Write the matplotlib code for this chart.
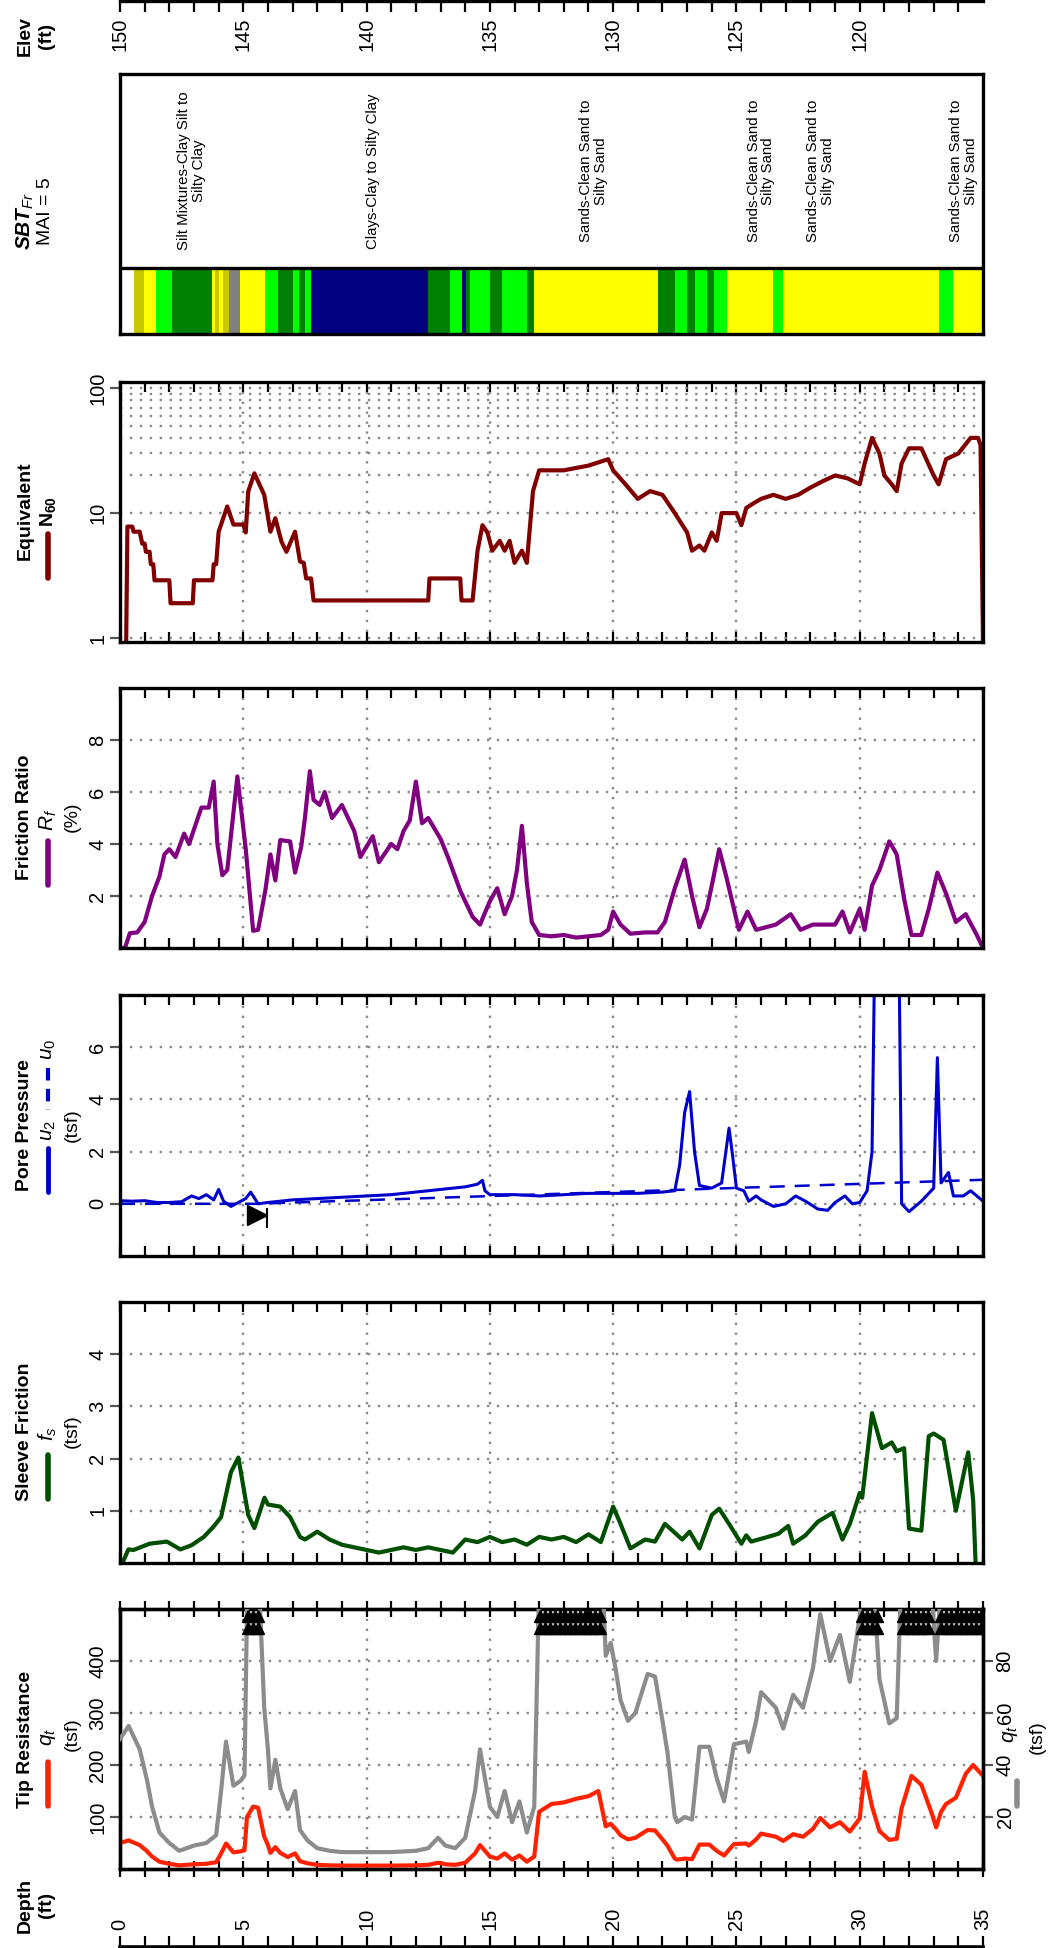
import numpy as np
import matplotlib
matplotlib.use("Agg")
import matplotlib.pyplot as plt
from matplotlib.lines import Line2D
from matplotlib.ticker import FixedLocator, NullFormatter

plt.rcParams['font.family'] = ['Liberation Sans', 'DejaVu Sans']
plt.rcParams['mathtext.fontset'] = 'custom'
plt.rcParams['mathtext.rm'] = 'Liberation Sans'
plt.rcParams['mathtext.it'] = 'Liberation Sans:italic'
plt.rcParams['mathtext.bf'] = 'Liberation Sans:bold'
plt.rcParams['mathtext.bfit'] = 'Liberation Sans:italic:bold'

# ---- data (depth in ft) ----
qt_depth = [0.0, 0.35, 0.8, 1.1, 1.3, 1.6, 2.0, 2.4, 3.0, 3.5, 3.9, 4.1, 4.3, 4.6, 4.9, 5.05,
            5.15, 5.4, 5.6, 5.85, 6.0, 6.1, 6.3, 6.5, 6.8, 7.1, 7.3, 7.6, 8.0, 8.5, 9.0, 10.0,
            11.0, 12.0, 12.5, 12.9, 13.2, 13.6, 14.0, 14.4, 14.6, 14.8, 15.0, 15.3, 15.6, 15.9,
            16.2, 16.5, 16.8, 17.0, 17.5, 18.0, 18.5, 19.0, 19.4, 19.7, 19.9, 20.1, 20.3, 20.6,
            20.9, 21.4, 21.7, 22.0, 22.2, 22.5, 22.6, 22.9, 23.2, 23.5, 23.9, 24.2, 24.5, 24.9,
            25.4, 25.5, 25.8, 26.0, 26.3, 26.6, 26.9, 27.3, 27.7, 28.1, 28.4, 28.8, 29.2, 29.6,
            30.0, 30.2, 30.5, 30.8, 31.2, 31.5, 31.7, 32.1, 32.5, 32.9, 33.1, 33.3, 33.5, 33.9,
            34.3, 34.6, 35.0]
qt_tsf = [50, 55, 46, 34, 24, 14, 10, 7, 9, 10, 13, 30, 49, 32, 34, 36,
          100, 120, 118, 62, 46, 31, 42, 31, 23, 30, 15, 11, 8, 7, 6.5, 6.5,
          6.5, 7, 8, 12, 9, 8, 12, 30, 46, 35, 24, 20, 30, 18,
          26, 14, 24, 110, 125, 128, 135, 140, 150, 82, 87, 77, 65, 57,
          60, 75, 74, 57, 45, 20, 18, 20, 19, 47, 47, 35, 26, 48,
          49, 45, 57, 68, 65, 62, 54, 67, 62, 77, 98, 80, 90, 72,
          97, 187, 120, 73, 56, 58, 117, 179, 162, 110, 80, 110, 125, 137,
          183, 200, 179]
qt_clip_start = [5.2, 17.05, 30.1, 31.75, 33.3]
qt_clip_end = [5.7, 19.55, 30.75, 32.9, 34.9]

fs_depth = [0.0, 0.1, 0.34, 0.55, 1.2, 1.9, 2.45, 2.9, 3.4, 3.8, 4.1, 4.5, 4.8, 5.2, 5.45,
            5.86, 6.0, 6.5, 6.9, 7.3, 7.5, 8.0, 8.5, 9.0, 9.5, 10.0, 10.5, 11.0, 11.5, 12.0,
            12.5, 13.0, 13.5, 14.0, 14.5, 15.0, 15.5, 16.0, 16.5, 17.0, 17.5, 18.0, 18.5, 19.0,
            19.5, 20.0, 20.3, 20.7, 21.3, 21.7, 22.1, 22.5, 22.8, 23.1, 23.5, 24.0, 24.3, 24.7,
            25.2, 25.4, 25.6, 26.2, 26.7, 27.1, 27.3, 27.8, 28.3, 28.9, 29.3, 29.6, 30.0, 30.1,
            30.5, 30.9, 31.3, 31.5, 31.8, 32.0, 32.5, 32.8, 33.0, 33.4, 33.9, 34.4, 34.6, 34.7]
fs_tsf = [0.0, 0.0, 0.26, 0.25, 0.37, 0.41, 0.26, 0.34, 0.5, 0.7, 0.88, 1.74, 2.02, 0.92, 0.67,
          1.25, 1.12, 1.08, 0.88, 0.5, 0.45, 0.6, 0.45, 0.35, 0.3, 0.25, 0.2, 0.25, 0.3, 0.25,
          0.3, 0.25, 0.2, 0.45, 0.4, 0.5, 0.4, 0.45, 0.35, 0.5, 0.45, 0.5, 0.4, 0.55,
          0.4, 1.08, 0.75, 0.28, 0.45, 0.41, 0.75, 0.58, 0.45, 0.6, 0.28, 0.92, 1.04, 0.75,
          0.37, 0.53, 0.41, 0.49, 0.56, 0.71, 0.37, 0.53, 0.79, 0.96, 0.45, 0.75, 1.34, 1.25,
          2.87, 2.2, 2.31, 2.14, 2.2, 0.66, 0.62, 2.43, 2.48, 2.36, 1.0, 2.12, 1.21, 0.0]

u2_depth = [0.0, 0.5, 1.0, 1.5, 2.0, 2.5, 2.9, 3.2, 3.5, 3.8, 4.0, 4.2, 4.5, 4.8, 5.1, 5.3,
            5.6, 6.0, 6.5, 7.0, 8.0, 9.0, 10.0, 11.0, 12.0, 13.0, 14.0, 14.5, 14.7, 14.8, 15.0,
            16.0, 17.0, 18.0, 19.0, 20.0, 21.0, 22.0, 22.5, 22.7, 22.9, 23.1, 23.3, 23.5, 24.0,
            24.4, 24.6, 24.7, 24.85, 25.0, 25.3, 25.5, 25.8, 26.0, 26.5, 27.0, 27.4, 27.8, 28.3,
            28.7, 29.0, 29.4, 29.7, 30.0, 30.3, 30.5, 30.6, 31.6, 31.7, 32.0, 32.5, 33.0, 33.15,
            33.3, 33.6, 33.8, 34.2, 34.5, 35.0]
u2_tsf = [0.12, 0.1, 0.12, 0.05, 0.05, 0.08, 0.3, 0.2, 0.35, 0.15, 0.55, 0.1, -0.1, 0.05, 0.2, 0.45,
          0.0, 0.05, 0.1, 0.15, 0.2, 0.25, 0.3, 0.35, 0.45, 0.55, 0.65, 0.75, 0.9, 0.5, 0.35,
          0.35, 0.3, 0.35, 0.4, 0.4, 0.4, 0.45, 0.5, 1.5, 3.5, 4.3, 2.0, 0.7, 0.6,
          0.8, 2.2, 2.9, 1.8, 0.6, 0.5, 0.1, 0.3, 0.15, -0.1, 0.0, 0.3, 0.1, -0.2,
          -0.25, 0.05, 0.3, 0.0, 0.05, 0.5, 2.0, 9.0, 9.0, 0.0, -0.3, 0.1, 0.6, 5.6,
          0.8, 1.2, 0.3, 0.3, 0.5, 0.1]
u0_depth = [0.0, 5.5, 35.0]
u0_tsf = [0.0, 0.0, 0.92]
water_depth = 5.55

rf_depth = [0.0, 0.2, 0.4, 0.7, 1.0, 1.3, 1.6, 1.8, 2.0, 2.25, 2.6, 2.8, 3.3, 3.6, 3.8, 3.95,
            4.15, 4.35, 4.76, 5.1, 5.4, 5.6, 5.9, 6.1, 6.3, 6.5, 6.9, 7.1, 7.35, 7.5, 7.7, 7.85,
            8.1, 8.3, 8.6, 9.0, 9.5, 9.75, 10.25, 10.5, 11.0, 11.25, 11.5, 11.75, 12.0, 12.25,
            12.5, 13.0, 13.3, 13.8, 14.3, 14.6, 15.0, 15.3, 15.6, 15.9, 16.1, 16.3, 16.5, 16.7,
            17.0, 17.5, 18.0, 18.5, 19.0, 19.5, 19.8, 20.0, 20.3, 20.7, 21.3, 21.8, 22.1, 22.5,
            22.9, 23.2, 23.5, 23.8, 24.0, 24.3, 24.6, 25.1, 25.45, 25.8, 26.6, 27.2, 27.6, 28.1,
            29.0, 29.3, 29.6, 30.0, 30.2, 30.5, 30.8, 31.2, 31.5, 31.8, 32.1, 32.5, 32.8, 33.15,
            33.5, 33.9, 34.3, 34.75, 35.0]
rf_pct = [0.0, 0.0, 0.57, 0.6, 1.0, 2.0, 2.75, 3.6, 3.8, 3.5, 4.4, 4.0, 5.4, 5.4, 6.4, 4.0,
          2.8, 3.0, 6.6, 3.8, 0.66, 0.7, 2.25, 3.6, 2.6, 4.15, 4.1, 2.9, 3.9, 5.0, 6.8, 5.7,
          5.5, 6.0, 5.0, 5.5, 4.5, 3.5, 4.3, 3.3, 4.0, 3.8, 4.5, 4.9, 6.4, 4.8,
          5.0, 4.2, 3.5, 2.2, 1.2, 0.9, 1.8, 2.3, 1.3, 2.0, 3.0, 4.7, 2.5, 1.0,
          0.5, 0.45, 0.5, 0.4, 0.45, 0.5, 0.7, 1.4, 0.9, 0.55, 0.6, 0.6, 1.0, 2.3,
          3.4, 2.0, 0.8, 1.5, 2.4, 3.8, 2.7, 0.7, 1.4, 0.7, 0.9, 1.3, 0.7, 0.9,
          0.9, 1.4, 0.6, 1.5, 0.7, 2.4, 3.0, 4.1, 3.6, 1.9, 0.5, 0.5, 1.5, 2.9,
          2.1, 1.0, 1.3, 0.5, 0.0]

n60_depth = [0.0, 0.25, 0.3, 0.5, 0.55, 0.8, 0.9, 1.0, 1.05, 1.2, 1.25, 1.35, 1.4, 2.0, 2.05,
             2.95, 3.0, 3.75, 3.8, 3.9, 4.0, 4.35, 4.6, 5.0, 5.1, 5.2, 5.45, 5.85, 6.1, 6.3,
             6.55, 6.75, 7.1, 7.3, 7.45, 7.55, 7.75, 7.85, 12.5, 12.55, 13.8, 13.85, 14.3, 14.5,
             14.7, 14.9, 15.1, 15.4, 15.6, 15.8, 16.0, 16.3, 16.5, 16.75, 17.0, 18.0, 19.0, 19.8,
             20.0, 20.5, 21.0, 21.5, 22.0, 22.5, 23.0, 23.2, 23.5, 23.7, 24.0, 24.2, 24.4, 25.0,
             25.2, 25.4, 25.7, 26.0, 26.5, 27.0, 27.5, 28.0, 28.5, 29.0, 29.5, 30.0, 30.2, 30.5,
             30.8, 31.0, 31.3, 31.5, 31.7, 32.0, 32.5, 33.0, 33.2, 33.5, 34.0, 34.5, 34.8, 34.9,
             35.0]
n60_blows = [0.9, 0.9, 7.8, 7.8, 7.1, 7.1, 5.7, 5.7, 4.9, 4.9, 3.9, 3.9, 2.9, 2.9, 1.9,
             1.9, 2.9, 2.9, 3.9, 3.9, 7.1, 11.3, 8.1, 8.1, 7.0, 14.9, 20.8, 14.0, 7.1, 9.1,
             5.9, 4.9, 7.1, 4.1, 4.0, 3.0, 3.0, 2.0, 2.0, 3.0, 3.0, 2.0, 2.0, 5.0,
             8.0, 7.0, 5.0, 6.0, 5.0, 6.0, 4.0, 5.0, 4.0, 15.0, 22.0, 22.0, 24.0, 27.0,
             22.0, 17.0, 13.0, 15.0, 14.0, 10.0, 7.0, 5.0, 5.5, 5.0, 7.0, 6.0, 10.0, 10.0,
             8.0, 11.0, 12.0, 13.0, 14.0, 13.0, 14.0, 16.0, 18.0, 20.0, 19.0, 17.0, 25.0, 40.0,
             30.0, 20.0, 17.0, 15.0, 25.0, 33.0, 33.0, 20.0, 17.0, 27.0, 30.0, 40.0, 40.0, 35.0,
             0.9]

sbt_top = [0.0, 0.57, 0.97, 1.46, 2.1, 3.74, 3.85, 4.0, 4.17, 4.43, 4.87, 5.07, 5.88, 6.42,
           7.03, 7.25, 7.5, 7.73, 12.5, 13.4, 13.85, 14.05, 14.2, 15.0, 15.5, 16.5, 16.8, 21.8,
           22.5, 23.0, 23.3, 23.8, 24.1, 24.6, 26.5, 26.9, 33.2, 33.8]
sbt_bot = sbt_top[1:] + [35.0]
sbt_color = ['white', '#C8C800', 'yellow', '#00FF00', '#008000', 'yellow', '#C8C800', 'yellow',
             '#C8C800', 'gray', 'yellow', 'yellow', '#00FF00', '#008000',
             '#00FF00', '#008000', '#00FF00', '#000080', '#008000', '#00FF00', '#000080', '#008000',
             '#00FF00', '#008000', '#00FF00', '#008000', 'yellow', '#008000',
             '#00FF00', '#008000', '#00FF00', '#008000', '#00FF00', 'yellow', '#00FF00', 'yellow',
             '#00FF00', 'yellow']
sbt_label_depth = [2.9, 10.25, 19.2, 26.0, 28.4, 34.2]
sbt_labels = ['Silt Mixtures-Clay Silt to\nSilty Clay', 'Clays-Clay to Silty Clay',
              'Sands-Clean Sand to\nSilty Sand', 'Sands-Clean Sand to\nSilty Sand',
              'Sands-Clean Sand to\nSilty Sand', 'Sands-Clean Sand to\nSilty Sand']

# ---- layout (pixels of the 1048 x 1948 picture) ----
W, H = 1048, 1948
X0, X1 = 120, 983
fig = plt.figure(figsize=(W / 100, H / 100), dpi=100)

def fx(px):
    return px / W

def fy(py):
    return 1 - py / H

def panel(top, bot):
    return fig.add_axes([fx(X0), fy(bot), fx(X1 - X0), (bot - top) / H])

grid_kw = dict(color='#8a8a8a', linestyle=(0, (1, 3.2)), linewidth=1.7)

def rotate_labels(ax):
    for lab in ax.get_yticklabels():
        lab.set_rotation(90)
        lab.set_va('center')

def style(ax, yticks, ylim, bottom_out=False):
    ax.set_xlim(0, 35)
    ax.set_ylim(ylim)
    for s in ax.spines.values():
        s.set_linewidth(2.4)
    ax.set_xticks(np.arange(0, 36, 5))
    ax.set_xticks(np.arange(0, 36, 1), minor=True)
    ax.tick_params(axis='x', which='both', direction='in', top=True, bottom=True,
                   labelbottom=False, length=7, width=1.6)
    if bottom_out:
        ax.tick_params(axis='x', which='both', bottom=True, direction='inout', length=12)
    ax.xaxis.grid(True, which='major', **grid_kw)
    if yticks is not None:
        ax.set_yticks(yticks)
        ax.set_yticklabels([str(t) for t in yticks])
        ax.yaxis.grid(True, which='major', **grid_kw)
    ax.tick_params(axis='y', which='major', direction='out', length=7, width=1.6,
                   color='#555555', labelsize=14.5, pad=2)
    rotate_labels(ax)
    ax.set_axisbelow(True)

def legend_row(x, y0, y1, color, ls='-', lw=4):
    fig.add_artist(Line2D([fx(x), fx(x)], [fy(y0), fy(y1)], color=color, lw=lw,
                          linestyle=ls, solid_capstyle='round'))

def vtext(x, y, s, size=14, weight='normal', color='black', **kw):
    fig.text(fx(x), fy(y), s, rotation=90, ha='center', va='center', fontsize=size,
             fontweight=weight, color=color, **kw)

# ---- Tip resistance ----
ax_qt = panel(1609, 1869)
style(ax_qt, [100, 200, 300, 400], (0, 500), bottom_out=True)
ax_g = ax_qt.twinx()
ax_g.set_ylim(0, 100)
ax_g.set_yticks([20, 40, 60, 80])
ax_g.tick_params(axis='y', direction='out', length=7, width=1.6, color='#555555',
                 labelsize=14.5, pad=2)
for lab in ax_g.get_yticklabels():
    lab.set_rotation(90)
    lab.set_va('center')
for s in ax_g.spines.values():
    s.set_linewidth(2.4)
ax_g.plot(qt_depth, qt_tsf, color='#8c8c8c', lw=3.0, zorder=3)
ax_qt.plot(qt_depth, qt_tsf, color='#ff2200', lw=3.0, zorder=4)
for a, b in zip(qt_clip_start, qt_clip_end):
    d = np.arange(a, b + 0.01, 0.2)
    ax_g.plot(d, np.full(d.size, 97.2), '^', color='black', ms=8.5, zorder=5)
    ax_g.plot(d, np.full(d.size, 92.8), '^', color='black', ms=8.5, zorder=5)

vtext(25, 1739, 'Tip Resistance', size=14, weight='bold')
legend_row(48, 1762, 1806, '#ff2200')
vtext(48, 1737, r'$q_t$', size=15)
vtext(72, 1734, '(tsf)', size=14)
legend_row(1017, 1781, 1806, '#8c8c8c')
vtext(1010, 1734, r'$q_t$', size=15)
vtext(1037, 1737, '(tsf)', size=14)

# ---- Sleeve friction ----
ax_fs = panel(1302, 1563)
style(ax_fs, [1, 2, 3, 4], (0, 5))
ax_fs.plot(fs_depth, fs_tsf, color='#004f00', lw=3.0)
vtext(25, 1432, 'Sleeve Friction', size=14, weight='bold')
legend_row(48, 1455, 1499, '#004f00')
vtext(48, 1434, r'$f_s$', size=15)
vtext(72, 1431, '(tsf)', size=14)

# ---- Pore pressure ----
ax_u = panel(995, 1256)
style(ax_u, [0, 2, 4, 6], (-2, 8))
ax_u.plot(u0_depth, u0_tsf, color='#0000cc', lw=1.8, linestyle=(0, (6, 4)))
ax_u.plot(u2_depth, u2_tsf, color='#0000cc', lw=2.2)
ax_u.plot([water_depth], [-0.42], marker='>', color='black', ms=15)
ax_u.plot([water_depth + 0.42, water_depth + 0.42], [-0.2, -0.9], color='black', lw=1.5)
vtext(25, 1125, 'Pore Pressure', size=14, weight='bold')
legend_row(48, 1148, 1192, '#0000cc', lw=3.5)
vtext(48, 1131, r'$u_2$', size=15)
legend_row(48, 1068, 1110, '#0000cc', ls=(0, (3, 2)), lw=3)
vtext(48, 1049, r'$u_0$', size=15)
vtext(72, 1125, '(tsf)', size=14)

# ---- Friction ratio ----
ax_rf = panel(688, 948)
style(ax_rf, [2, 4, 6, 8], (0, 10))
ax_rf.plot(rf_depth, rf_pct, color='#800080', lw=3.0)
vtext(25, 817, 'Friction Ratio', size=14, weight='bold')
legend_row(48, 841, 885, '#800080')
vtext(48, 820, r'$R_f$', size=15)
vtext(72, 817, '(%)', size=14)

# ---- Equivalent N60 ----
ax_n = panel(382, 642)
ax_n.set_yscale('log')
style(ax_n, None, (0.93, 112))
ax_n.set_yticks([1, 10, 100])
ax_n.set_yticklabels(['1', '10', '100'])
ax_n.yaxis.set_minor_locator(FixedLocator([20, 30, 40, 50, 60, 70, 80, 90]))
ax_n.yaxis.set_minor_formatter(NullFormatter())
ax_n.tick_params(axis='y', which='minor', length=0)
ax_n.tick_params(axis='y', which='major', direction='out', length=7, width=1.6,
                 color='#555555', labelsize=14.5, pad=2)
rotate_labels(ax_n)
ax_n.yaxis.grid(True, which='both', **grid_kw)
ax_n.plot(n60_depth, n60_blows, color='#800000', lw=3.0)
vtext(25, 511, 'Equivalent', size=14, weight='bold')
legend_row(48, 534, 578, '#800000')
vtext(48, 512, r'$\mathbf{N_{60}}$', size=14)

# ---- SBT ----
ax_s = panel(74, 334)
ax_s.set_xlim(0, 35)
ax_s.set_ylim(0, 1)
ax_s.set_xticks([])
ax_s.set_yticks([])
for s in ax_s.spines.values():
    s.set_linewidth(2.4)
bar_top = (334 - 268) / 260
for a, b, c in zip(sbt_top, sbt_bot, sbt_color):
    ax_s.axvspan(a, b, 0, bar_top, color=c, lw=0)
ax_s.axhline(bar_top, color='black', lw=2.4)
for d, s in zip(sbt_label_depth, sbt_labels):
    ax_s.text(d, (bar_top + 1) / 2, s, rotation=90, ha='center', va='center',
              fontsize=10.8, linespacing=1.05)
vtext(25, 221, r'$\mathbfit{SBT}_{\mathit{Fr}}$', size=15)
vtext(46, 211, 'MAI = 5', size=14)

# ---- elevation axis (top) ----
ax_e = fig.add_axes([fx(X0), fy(1.2), fx(X1 - X0), 0.0])
ax_e.set_xlim(150, 115)
for k in ['top', 'left', 'right']:
    ax_e.spines[k].set_visible(False)
ax_e.spines['bottom'].set_linewidth(2.4)
ax_e.set_yticks([])
ax_e.set_xticks([150, 145, 140, 135, 130, 125, 120])
ax_e.set_xticks(np.arange(116, 151, 1), minor=True)
ax_e.tick_params(axis='x', which='both', direction='out', length=8, width=1.6,
                 labelsize=14.5, pad=4)
for lab in ax_e.get_xticklabels():
    lab.set_rotation(90)
    lab.set_ha('center')
vtext(25, 36, 'Elev', size=14, weight='bold')
vtext(47, 36, '(ft)', size=14, weight='bold')

# ---- depth axis (bottom) ----
ax_d = fig.add_axes([fx(X0), fy(1946.5), fx(X1 - X0), 0.0])
ax_d.set_xlim(0, 35)
for k in ['bottom', 'left', 'right']:
    ax_d.spines[k].set_visible(False)
ax_d.spines['top'].set_linewidth(2.6)
ax_d.set_yticks([])
ax_d.xaxis.set_ticks_position('top')
ax_d.set_xticks(np.arange(0, 36, 5))
ax_d.set_xticks(np.arange(0, 36, 1), minor=True)
ax_d.tick_params(axis='x', which='both', direction='out', length=8, width=1.6,
                 labelsize=14.5, pad=4, top=True, labeltop=True, bottom=False,
                 labelbottom=False)
for lab in ax_d.get_xticklabels():
    lab.set_rotation(90)
    lab.set_ha('center')
vtext(25, 1905, 'Depth', size=14, weight='bold')
vtext(47, 1905, '(ft)', size=14, weight='bold')

fig.savefig('out.png', dpi=100)
